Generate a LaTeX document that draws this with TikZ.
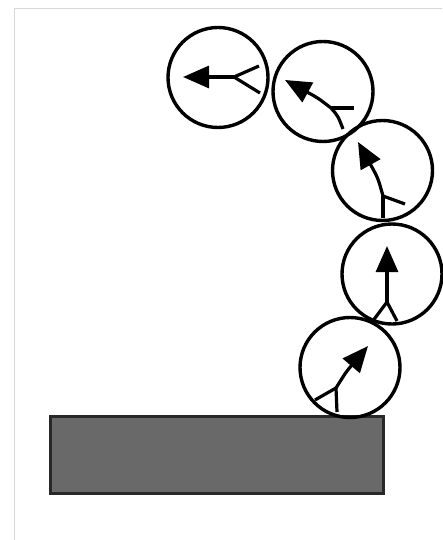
\documentclass[tikz,border=0pt]{standalone}
\usetikzlibrary{arrows.meta}
\definecolor{framegray}{RGB}{215,215,215}
\definecolor{slabfill}{RGB}{105,105,105}
\definecolor{slabedge}{RGB}{40,40,40}
\tikzset{
  cell/.style={circle, draw=black, line width=3.4pt, minimum size=100pt, inner sep=0pt},
  shaft/.style={line width=3.2pt, -{Triangle[length=26pt,width=22pt]}},
  forkline/.style={line width=3.2pt},
}
\begin{document}
\begin{tikzpicture}[x=1pt,y=-1pt]
\useasboundingbox (0,0) rectangle (442,540);
% frame
\draw[framegray, line width=1pt] (14.5,540) -- (14.5,8.5) -- (442,8.5);
% slab
\node[draw=slabedge, fill=slabfill, line width=3pt, minimum width=333pt, minimum height=77pt, inner sep=0pt] (slab) at (216.5,454.5) {};
% cells
\node[cell] (c1) at (218,77.5) {};
\node[cell] (c2) at (323,91.5) {};
\node[cell] (c3) at (382.5,170.5) {};
\node[cell] (c4) at (392,274) {};
\node[cell] (c5) at (350,367.5) {};
% cell 1
\coordinate (f1) at (234,77);
\coordinate (t1) at (183,77);
\coordinate (a1) at (259,66);
\coordinate (b1) at (260,93);
\draw[shaft] (f1) -- (t1);
\draw[forkline] (f1) -- (a1);
\draw[forkline] (f1) -- (b1);
% cell 2
\coordinate (f2) at (331,108);
\coordinate (t2) at (285,80);
\coordinate (a2) at (354,108);
\coordinate (b2) at (343,129);
\draw[shaft] (f2) .. controls (318,98) .. (t2);
\draw[forkline] (f2) .. controls (338,116) .. (b2);
\draw[forkline] (f2) -- (a2);
% cell 3
\coordinate (f3) at (383,196);
\coordinate (t3) at (358,142);
\coordinate (a3) at (405,204);
\coordinate (b3) at (383,218);
\draw[shaft] (f3) .. controls (378,178) .. (t3);
\draw[forkline] (f3) -- (a3);
\draw[forkline] (f3) -- (b3);
% cell 4
\coordinate (f4) at (387,302);
\coordinate (t4) at (387,246);
\coordinate (a4) at (372,322);
\coordinate (b4) at (397,321);
\draw[shaft] (f4) -- (t4);
\draw[forkline] (f4) -- (a4);
\draw[forkline] (f4) -- (b4);
% cell 5
\coordinate (f5) at (336,388);
\coordinate (t5) at (368,346);
\coordinate (a5) at (315,400);
\coordinate (b5) at (337,412);
\draw[shaft] (f5) .. controls (346,372) .. (t5);
\draw[forkline] (f5) -- (a5);
\draw[forkline] (f5) -- (b5);
\end{tikzpicture}
\end{document}
